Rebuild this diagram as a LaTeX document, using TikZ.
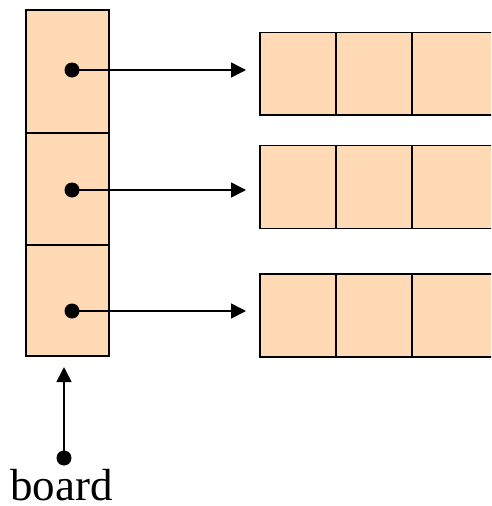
\documentclass[tikz,border=0pt]{standalone}
\usepackage{fontspec}
\setmainfont{Liberation Serif}
\usetikzlibrary{arrows.meta}
\definecolor{peach}{RGB}{255,218,180}
\tikzset{
  cell/.style={draw=black, fill=peach, line width=1.3pt, minimum width=#1, inner sep=0pt, outer sep=0pt},
  ptr/.style={line width=1.6pt, -{Triangle[length=15pt,width=15pt]}},
  dot/.style={circle, fill=black, minimum size=15pt, inner sep=0pt}
}
\begin{document}
\begin{tikzpicture}[x=1pt,y=-1pt]
\useasboundingbox (0,0) rectangle (491,506);
\clip (0,0) rectangle (491,506);
% left column
\node[cell=83pt, minimum height=123pt] (c1) at (67.5,71.5) {};
\node[cell=83pt, minimum height=112pt] (c2) at (67.5,189) {};
\node[cell=83pt, minimum height=111pt] (c3) at (67.5,300.5) {};
% rows
\foreach \r/\t/\b in {1/32.5/115, 2/145.5/228.5, 3/274/357}{
  \node[cell=76pt, minimum height={\b-\t}] (r\r a) at (298,{(\t+\b)/2}) {};
  \node[cell=76pt, minimum height={\b-\t}] (r\r b) at (374,{(\t+\b)/2}) {};
  \node[cell=84pt, minimum height={\b-\t}] (r\r c) at (454,{(\t+\b)/2}) {};
}
% pointers
\node[dot] (d1) at (72,70) {};
\node[dot] (d2) at (72,190) {};
\node[dot] (d3) at (72,311) {};
\coordinate (e1) at (246,70);
\coordinate (e2) at (246,190);
\coordinate (e3) at (246,311);
\draw[ptr] (d1.center) -- (e1);
\draw[ptr] (d2.center) -- (e2);
\draw[ptr] (d3.center) -- (e3);
% board
\node[dot] (bd) at (64,458) {};
\coordinate (bt) at (64,367);
\draw[ptr] (bd.center) -- (bt);
\node[anchor=base, font=\fontsize{45}{48}\selectfont, inner sep=0pt, text depth=0pt] (lbl) at (61.5,500) {board};
\end{tikzpicture}
\end{document}
